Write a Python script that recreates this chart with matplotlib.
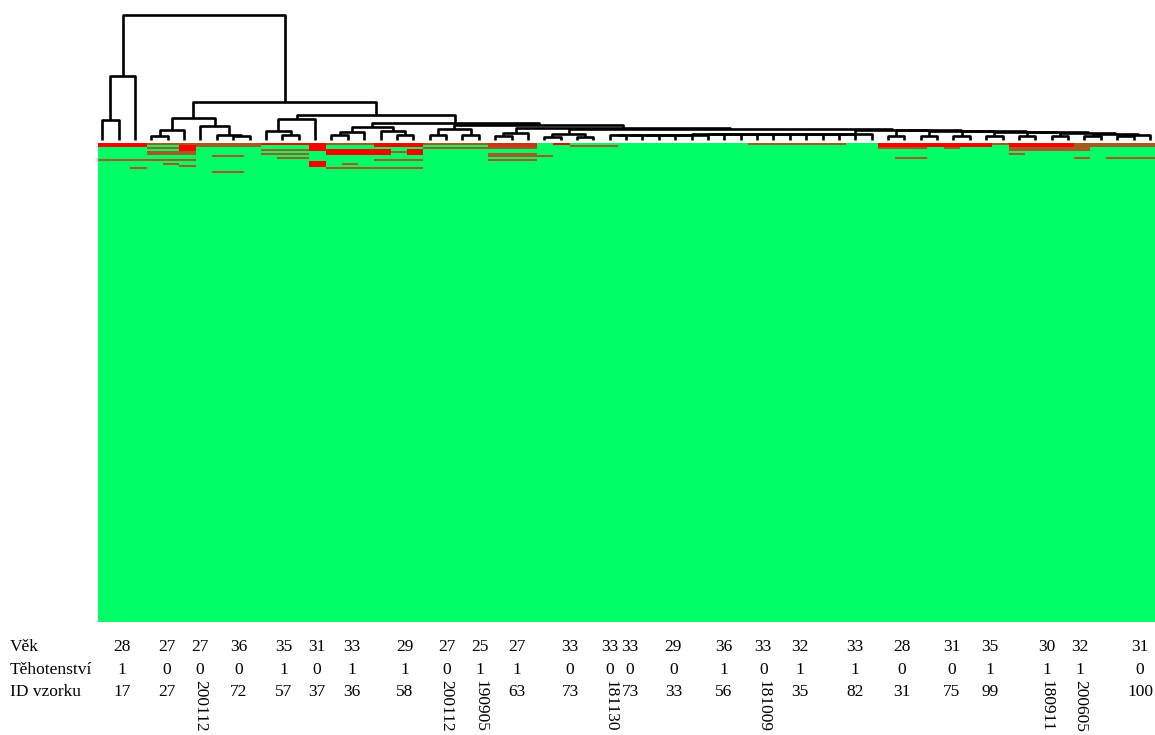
import matplotlib
import matplotlib.pyplot as plt
import numpy as np
from matplotlib.colors import LinearSegmentedColormap
from matplotlib.transforms import blended_transform_factory

matplotlib.use("Agg")

N_SAMPLES = 65
N_FEATURES = 240

# merges: (left node, right node, height); leaves are 0..64, merge i gets id 65 + i
linkage = [
    (0, 1, 19.5), (65, 2, 64.0),
    (3, 4, 4.0), (67, 5, 10.0), (8, 9, 4.0), (7, 69, 5.0), (6, 70, 13.5), (68, 71, 22.0),
    (11, 12, 5.0), (10, 73, 8.5), (74, 13, 21.0),
    (14, 15, 4.5), (76, 16, 8.0), (18, 19, 5.0), (17, 78, 8.5), (77, 79, 13.0),
    (20, 21, 4.5), (22, 23, 4.5), (81, 82, 11.0),
    (24, 25, 3.5), (84, 26, 7.0),
    (27, 28, 2.5), (29, 30, 3.0), (86, 87, 5.5),
    (31, 32, 4.5), (89, 33, 4.6), (90, 34, 4.7), (91, 35, 4.8), (92, 36, 4.9),
    (93, 37, 5.0), (94, 38, 5.1), (95, 39, 5.2), (96, 40, 5.3), (97, 41, 5.4),
    (98, 42, 5.5), (99, 43, 5.6), (100, 44, 5.7), (101, 45, 5.8), (102, 46, 5.9),
    (103, 47, 6.0),
    (48, 49, 3.5), (50, 51, 3.5), (52, 53, 3.5), (54, 55, 3.5), (56, 57, 3.5),
    (58, 59, 3.5), (60, 61, 3.5), (62, 63, 3.5),
    (112, 64, 5.0), (111, 113, 6.0), (110, 114, 6.8), (109, 115, 7.4),
    (108, 116, 7.8), (107, 117, 8.4), (106, 118, 9.0), (105, 119, 9.4),
    (104, 120, 9.8), (88, 121, 10.5), (85, 122, 11.5), (83, 123, 14.5),
    (80, 124, 17.0), (75, 125, 25.0), (72, 126, 37.3), (66, 127, 125.0),
]

# expression blocks: (first row, last row, first sample, last sample)
high_blocks = [
    (0, 1, 0, 2), (0, 0, 10, 13), (1, 3, 5, 5), (1, 3, 13, 13), (3, 5, 14, 16),
    (0, 1, 17, 19), (3, 5, 17, 17), (3, 5, 19, 19), (9, 11, 13, 13), (0, 0, 28, 28),
    (0, 1, 48, 54), (0, 1, 56, 59),
]
raised_blocks = [
    (0, 1, 24, 26),
]
mid_blocks = [
    (0, 0, 3, 9), (1, 1, 6, 9), (2, 2, 3, 5), (4, 4, 3, 5), (5, 5, 3, 5), (8, 8, 0, 5),
    (6, 6, 7, 8), (10, 10, 4, 4), (11, 11, 5, 5), (12, 12, 2, 2), (14, 14, 7, 8),
    (3, 3, 10, 12), (5, 5, 10, 12), (7, 7, 11, 12), (0, 0, 14, 16), (12, 12, 14, 19),
    (10, 10, 15, 15), (8, 8, 17, 19), (4, 4, 18, 18), (0, 0, 20, 23), (2, 2, 20, 23),
    (2, 2, 24, 26), (5, 5, 24, 26), (6, 6, 24, 27), (8, 8, 24, 26), (1, 1, 29, 31),
    (0, 0, 40, 45), (0, 0, 55, 55), (0, 1, 60, 64), (2, 2, 48, 50), (2, 2, 52, 52),
    (2, 3, 56, 60), (5, 5, 56, 56), (7, 7, 49, 50), (7, 7, 60, 60), (7, 7, 62, 64),
]

# annotated samples
label_pos = [0.96, 3.72, 5.77, 8.13, 10.9, 12.95, 15.1, 18.38, 20.94, 22.99, 25.25,
             28.53, 30.99, 32.22, 34.88, 37.96, 40.41, 42.67, 46.06, 48.93, 52.0,
             54.36, 57.84, 59.89, 63.58]
age = [28, 27, 27, 36, 35, 31, 33, 29, 27, 25, 27, 33, 33, 33, 29, 36, 33, 32, 33,
       28, 31, 35, 30, 32, 31]
pregnancy = [1, 0, 0, 0, 1, 0, 1, 1, 0, 1, 1, 0, 0, 0, 0, 1, 0, 1, 1, 0, 0, 1, 1, 1, 0]
sample_id = ["17", "27", "200112", "72", "57", "37", "36", "58", "200112", "190905",
             "63", "73", "181130", "73", "33", "56", "181009", "35", "82", "31", "75",
             "99", "180911", "200605", "100"]
row_names = ["Věk", "Těhotenství", "ID vzorku"]

W, H = 1155, 735
fig = plt.figure(figsize=(W / 100, H / 100), dpi=100)

# heatmap
matrix = np.zeros((N_FEATURES, N_SAMPLES))
for blocks, level in ((mid_blocks, 0.65), (raised_blocks, 0.8), (high_blocks, 1.0)):
    for r0, r1, c0, c1 in blocks:
        matrix[r0:r1 + 1, c0:c1 + 1] = level

cmap = LinearSegmentedColormap.from_list("gr", ["#00ff66", "#ff0000"])
ax = fig.add_axes([98 / W, (H - 622) / H, (W - 98) / W, (622 - 143) / H])
ax.imshow(matrix, cmap=cmap, vmin=0, vmax=1, aspect="auto", interpolation="nearest")
ax.set_axis_off()

# dendrogram
dax = fig.add_axes([98 / W, (H - 139.5) / H, (W - 98) / W, (139.5 - 15) / H])
xs = {i: float(i) for i in range(N_SAMPLES)}
hs = {i: 0.0 for i in range(N_SAMPLES)}
for i, (a, b, h) in enumerate(linkage):
    dax.plot([xs[a], xs[a], xs[b], xs[b]], [hs[a], h, h, hs[b]],
             color="black", lw=1.9, solid_capstyle="butt", clip_on=False)
    xs[N_SAMPLES + i] = (xs[a] + xs[b]) / 2
    hs[N_SAMPLES + i] = h
dax.set_xlim(-0.26, 64.31)
dax.set_ylim(0, 125)
dax.set_axis_off()

# sample annotations below the heatmap
font = dict(family="Liberation Serif", fontsize=12.5, color="black")
trans = blended_transform_factory(ax.transData, fig.transFigure)
rows_y = [1 - 651 / H, 1 - 674 / H, 1 - 696 / H]
for name, y in zip(row_names, rows_y):
    fig.text(10 / W, y, name, ha="left", va="baseline", **font)
for x, a, p, s in zip(label_pos, age, pregnancy, sample_id):
    ax.text(x, rows_y[0], str(a), ha="center", va="baseline", transform=trans, **font)
    ax.text(x, rows_y[1], str(p), ha="center", va="baseline", transform=trans, **font)
    if len(s) > 3:
        ax.text(x, 1 - 680 / H, s, ha="center", va="top", rotation=270,
                transform=trans, **font)
    else:
        ax.text(x, rows_y[2], s, ha="center", va="baseline", transform=trans, **font)

fig.savefig("out.png", dpi=100)
plt.close(fig)
